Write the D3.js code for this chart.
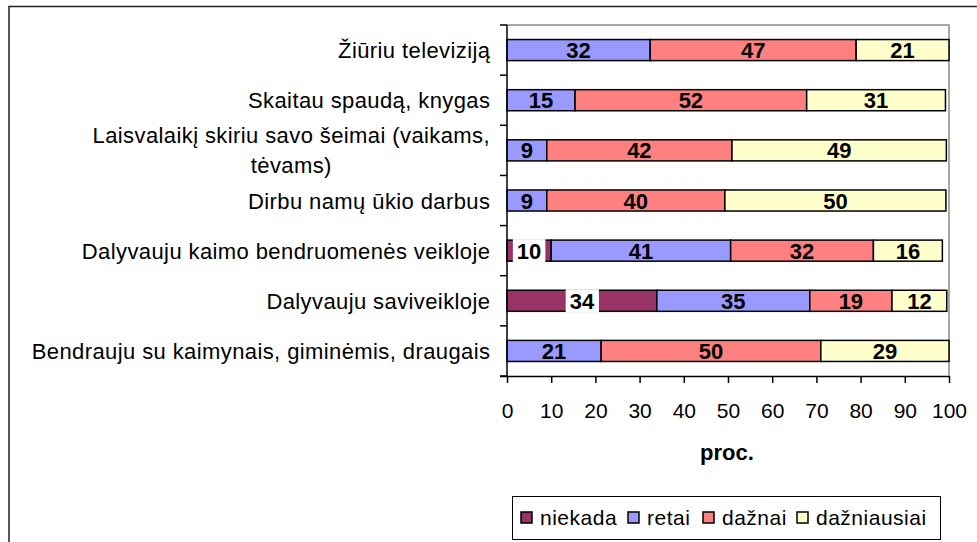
<!DOCTYPE html>
<html>
<head>
<meta charset="utf-8">
<script src="https://cdn.jsdelivr.net/npm/d3@7"></script>
<style>
  html, body { margin: 0; padding: 0; background: #fff; }
  svg { display: block; font-family: Arial, "Liberation Sans", sans-serif; }
</style>
</head>
<body>
<svg id="chart" width="977" height="542"></svg>
<script>
const categories = [
  "Žiūriu televiziją",
  "Skaitau spaudą, knygas",
  "Laisvalaikį skiriu savo šeimai (vaikams,\ntėvams)",
  "Dirbu namų ūkio darbus",
  "Dalyvauju kaimo bendruomenės veikloje",
  "Dalyvauju saviveikloje",
  "Bendrauju su kaimynais, giminėmis, draugais"
];
const seriesNames = ["niekada", "retai", "dažnai", "dažniausiai"];
const niekada     = [0, 0, 0, 0, 10.0, 33.9, 0];
const retai       = [32.4, 15.4, 9.0, 9.0, 40.6, 34.6, 21.3];
const daznai      = [46.6, 52.4, 41.9, 40.3, 32.3, 18.6, 49.7];
const dazniausiai = [21.0, 31.4, 48.5, 50.0, 15.6, 12.4, 29.0];
const xTicks = [0, 10, 20, 30, 40, 50, 60, 70, 80, 90, 100];
const xTitle = "proc.";

const colors = ["#993366", "#9999FF", "#FF8080", "#FFFFCC"];
const seriesVals = [niekada, retai, daznai, dazniausiai];
const FS = 22;
const fmt = d3.format(".0f");

const svg = d3.select("#chart");

// outer chart border
svg.append("path").attr("d", "M9,545 L9,6.5 L980,6.5")
  .attr("fill", "none").attr("stroke", "#222").attr("stroke-width", 1.5);

const x = d3.scaleLinear().domain([0, 100]).range([507, 949]);
const y = d3.scaleBand().domain(categories).range([25, 376])
  .paddingInner(0.58).paddingOuter(0.29);

// plot area border (gray top/right)
svg.append("path").attr("d", `M${x(0)},25 L${x(100)},25 L${x(100)},376`)
  .attr("fill", "none").attr("stroke", "#8c8c8c").attr("stroke-width", 1.5);

// stacked data
const table = categories.map((c, i) => {
  const o = { cat: c };
  seriesNames.forEach((s, k) => o[s] = seriesVals[k][i]);
  return o;
});
const stack = d3.stack().keys(seriesNames)(table);

stack.forEach((layer, k) => {
  const g = svg.append("g");
  layer.forEach(d => {
    const v = d[1] - d[0];
    if (v <= 0) return;
    g.append("rect")
      .attr("x", x(d[0])).attr("y", y(d.data.cat))
      .attr("width", x(d[1]) - x(d[0])).attr("height", y.bandwidth())
      .attr("fill", colors[k]).attr("stroke", "#000").attr("stroke-width", 1.5);
  });
});

// labels
stack.forEach((layer, k) => {
  layer.forEach(d => {
    const v = d.data[seriesNames[k]];
    if (v <= 0) return;
    const cx = (x(d[0]) + x(d[1])) / 2;
    const cy = y(d.data.cat) + y.bandwidth() / 2;
    const t = svg.append("text")
      .attr("x", cx).attr("y", cy + 8)
      .attr("text-anchor", "middle")
      .attr("font-size", FS).attr("font-weight", "bold").attr("fill", "#000")
      .text(fmt(v));
    if (k === 0) {
      const bb = t.node().getBBox();
      svg.insert("rect", () => t.node())
        .attr("x", bb.x - 4).attr("y", y(d.data.cat) - 1)
        .attr("width", bb.width + 8).attr("height", y.bandwidth() + 2)
        .attr("fill", "#fff");
    }
  });
});

// y axis line and category ticks
svg.append("line").attr("x1", x(0)).attr("x2", x(0)).attr("y1", 25).attr("y2", 376)
  .attr("stroke", "#000").attr("stroke-width", 1.5);
const bounds = d3.range(categories.length + 1).map(i => 25 + i * (351 / categories.length));
bounds.forEach(b => {
  svg.append("line").attr("x1", x(0) - 7).attr("x2", x(0)).attr("y1", b).attr("y2", b)
    .attr("stroke", "#000").attr("stroke-width", 1.5);
});

// category labels
const LS = 0.4;
categories.forEach(c => {
  const lines = c.split("\n");
  const cy = y(c) + y.bandwidth() / 2;
  if (lines.length === 1) {
    svg.append("text").attr("x", 490 + LS).attr("y", cy + 8)
      .attr("text-anchor", "end").attr("font-size", FS).attr("letter-spacing", LS)
      .attr("fill", "#000").text(c);
  } else {
    const g = svg.append("g");
    const ts = lines.map((l, i) => g.append("text")
      .attr("y", cy + 8 + (i - (lines.length - 1) / 2) * 30)
      .attr("text-anchor", "middle").attr("font-size", FS).attr("letter-spacing", LS)
      .attr("fill", "#000").text(l));
    const w = d3.max(ts, t => t.node().getComputedTextLength());
    ts.forEach(t => t.attr("x", 490 - w / 2));
  }
});

// x axis
const xAxis = d3.axisBottom(x).tickValues(xTicks).tickSize(7).tickSizeOuter(0).tickPadding(20);
const gx = svg.append("g").attr("transform", "translate(0,376)").call(xAxis);
gx.select(".domain").attr("stroke", "#000").attr("stroke-width", 1.5)
  .attr("d", `M${x(0) - 7},0.5H${x(100)}`);
gx.selectAll(".tick line").attr("stroke", "#000").attr("stroke-width", 1.5);
gx.selectAll(".tick text").attr("font-size", 21).attr("fill", "#000")
  .attr("font-family", "Arial, 'Liberation Sans', sans-serif");

svg.append("text").attr("x", (x(0) + x(100)) / 2 - 1).attr("y", 460)
  .attr("text-anchor", "middle").attr("font-size", FS).attr("font-weight", "bold")
  .attr("fill", "#000").text(xTitle);

// legend
svg.append("rect").attr("x", 512.5).attr("y", 496.5).attr("width", 428).attr("height", 43)
  .attr("fill", "#fff").attr("stroke", "#000").attr("stroke-width", 1);
const legendX = [521, 628, 703, 797];
seriesNames.forEach((s, k) => {
  svg.append("rect").attr("x", legendX[k]).attr("y", 512).attr("width", 11).attr("height", 11)
    .attr("fill", colors[k]).attr("stroke", "#000").attr("stroke-width", 1.5);
  svg.append("text").attr("x", legendX[k] + 19).attr("y", 525)
    .attr("font-size", 21).attr("letter-spacing", 0.5).attr("fill", "#000").text(s);
});
</script>
</body>
</html>
